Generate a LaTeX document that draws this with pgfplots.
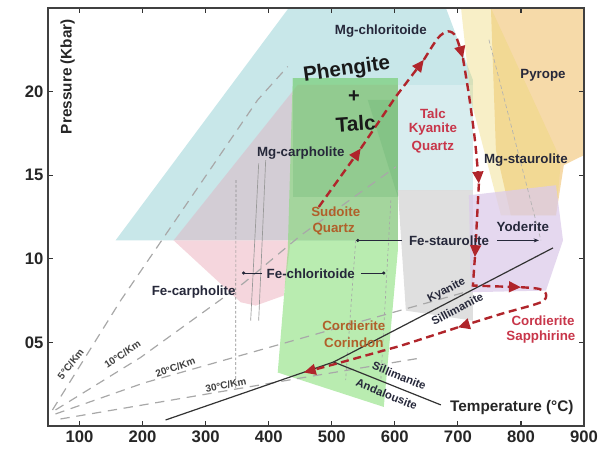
\documentclass[border=0pt]{standalone}
\usepackage{pgfplots}
\pgfplotsset{compat=1.18}
\usepackage{fontspec}
\setmainfont{Liberation Sans}
\usetikzlibrary{arrows.meta}
\definecolor{cyanband}{HTML}{C2E4E7}
\definecolor{mauve}{HTML}{D5CBD4}
\definecolor{pinkc}{HTML}{F4D2D9}
\definecolor{greenc}{HTML}{7FDC70}
\definecolor{greend}{HTML}{4FA860}
\definecolor{greyc}{HTML}{D9D9D9}
\definecolor{orangec}{HTML}{F5D39A}
\definecolor{yellowc}{HTML}{EDD874}
\definecolor{lavc}{HTML}{DCCBEA}
\definecolor{pathred}{HTML}{B0252B}
\definecolor{labred}{HTML}{C8364A}
\definecolor{labbrown}{HTML}{B0602A}
\definecolor{labdark}{HTML}{26283A}
\definecolor{geo}{HTML}{A8A8A8}
\begin{document}
\begin{tikzpicture}
\begin{axis}[scale only axis, width=402pt, height=313.5pt,
  xmin=50, xmax=900, ymin=0, ymax=25,
  xtick={100,200,300,400,500,600,700,800,900},
  ytick={5,10,15,20}, yticklabels={05,10,15,20},
  tick align=inside, major tick length=4pt,
  tick style={black!80, line width=0.9pt},
  axis line style={black!75, line width=1.3pt},
  ticklabel style={font=\fontsize{12.5}{14}\selectfont\bfseries, text=black!85},
  /pgf/number format/assume math mode=true,
  axis on top]
% ---- fields ----
\addplot[fill=cyanband, draw=none, fill opacity=0.9] coordinates {(157.1,11.1) (431.7,25) (681,25) (723.8,20.7) (723.8,14.1) (604.8,14.1) (604.8,11.1)} -- cycle;
\addplot[fill=white, draw=none, fill opacity=0.3] coordinates {(604.8,20.4) (723.8,20.4) (723.8,14.1) (604.8,14.1)} -- cycle;
\addplot[fill=mauve, draw=none, fill opacity=0.9] coordinates {(249.2,11.1) (446,20.4) (604.8,20.4) (604.8,11.1)} -- cycle;
\addplot[fill=pinkc, draw=none, fill opacity=0.9] coordinates {(249.2,11.1) (434.9,11.1) (423.8,7.8) (379.4,7.2) (355.6,7.4)} -- cycle;
\addplot[fill=greenc, draw=none, fill opacity=0.55] coordinates {(438.1,20.8) (604.8,20.8) (604.8,10.5) (582.5,1.14) (414.3,3.2) (430.2,10.5)} -- cycle;
\addplot[fill=greend, draw=none, fill opacity=0.2] coordinates {(438.1,20.8) (604.8,20.8) (604.8,13.7) (438.1,13.7)} -- cycle;
\addplot[fill=greend, draw=none, fill opacity=0.2] coordinates {(557.1,19.5) (604.8,19.5) (604.8,13.7)} -- cycle;
\addplot[fill=greyc, draw=none, fill opacity=0.85] coordinates {(604.8,14.1) (723.8,14.1) (723.8,6.3) (617.5,6.9)} -- cycle;
\addplot[fill=orangec, draw=none, fill opacity=0.85] coordinates {(752.4,25) (900,25) (900,16.2) (868,15.6) (855.6,12.6) (784,12.6) (760.3,16.5)} -- cycle;
\addplot[fill=yellowc, draw=none, fill opacity=0.4] coordinates {(705,25) (752.4,25) (863.5,15.9) (855.6,12.6) (768.3,12.6) (720.6,19.5)} -- cycle;
\addplot[fill=lavc, draw=none, fill opacity=0.75] coordinates {(717.5,13.8) (855.6,14.4) (866.7,11.1) (839.7,8.1) (720.6,8.0)} -- cycle;
% ---- geotherms ----
\addplot[geo, line width=0.9pt, dash pattern=on 7pt off 5pt] coordinates {(57.1,0.96) (165.1,7.5) (382.5,19.5) (430.2,21.5)};
\addplot[geo, line width=0.9pt, dash pattern=on 7pt off 5pt] coordinates {(61.9,0.96) (196.8,4.1) (360.3,8.55) (450.8,11.4) (601.6,15.5)};
\addplot[geo, line width=0.9pt, dash pattern=on 7pt off 5pt] coordinates {(61.9,0.72) (201.6,2.57) (522.2,6.0) (720.6,8.1)};
\addplot[geo, line width=0.9pt, dash pattern=on 7pt off 5pt] coordinates {(69.8,0.42) (228.6,1.44) (450.8,2.87) (641.3,4.07)};
% ---- reaction lines ----
\addplot[black!45, line width=0.5pt, dash pattern=on 2pt off 1.5pt] coordinates {(348.1,14.7) (347.6,2.15)};
\addplot[black!40, line width=0.5pt] coordinates {(384.1,15.7) (371.4,6.3)};
\addplot[black!40, line width=0.5pt] coordinates {(395.2,15.9) (384.1,6.3)};
\addplot[black!35, line width=0.5pt, dash pattern=on 2pt off 2pt] coordinates {(538,11.1) (522,2.75)};
\addplot[black!35, line width=0.5pt, dash pattern=on 2pt off 2pt] coordinates {(593.7,13.5) (577.8,2.75)};
\addplot[black!30, line width=0.5pt, dash pattern=on 3pt off 2pt] coordinates {(749.2,23.1) (831.7,11.1)};
% ---- aluminosilicate ----
\addplot[black!80, line width=0.9pt] coordinates {(236.5,0.36) (503,3.83) (850.8,10.65)};
\addplot[black!80, line width=0.9pt] coordinates {(503,3.83) (673,1.26)};
% ---- Fe lines ----
\addplot[labdark, line width=0.5pt] coordinates {(541.3,11.1) (612,11.1)};
\addplot[labdark, line width=0.5pt, -{Stealth[length=4pt,width=3pt]}] coordinates {(762,11.1) (828.6,11.1)};
\addplot[labdark, only marks, mark=*, mark size=1pt] coordinates {(541.3,11.1)};
\addplot[labdark, line width=0.5pt] coordinates {(360.3,9.15) (389,9.15)};
\addplot[labdark, line width=0.5pt] coordinates {(546,9.15) (582.5,9.15)};
\addplot[labdark, only marks, mark=*, mark size=1pt] coordinates {(360.3,9.15) (582.5,9.15)};
% ---- PT path ----
\pgfplotsset{ptpath/.style={pathred, line width=1.8pt, dash pattern=on 6pt off 3.5pt, -{Triangle[length=9pt,width=8pt]}}}
\addplot[ptpath] coordinates {(479.4,13.1) (546,16.6)};
\addplot[ptpath] coordinates {(546,16.6) (601.6,19.7) (646,21.9)};
\addplot[ptpath, smooth] coordinates {(646,21.9) (668.3,23.2) (684.1,23.6) (696.8,23.3) (708,22.0)};
\addplot[ptpath, smooth] coordinates {(708,22.0) (717.5,19.8) (727,17.1) (733.3,14.5)};
\addplot[ptpath] coordinates {(733.3,14.5) (730.2,12.3) (727,10.1)};
\addplot[ptpath] coordinates {(727,10.1) (723.8,8.4) (800,8.3)};
\addplot[ptpath, smooth] coordinates {(800,8.3) (828.6,8.2) (839.7,7.9) (831.7,7.4) (768.3,6.7) (700,5.9)};
\addplot[ptpath] coordinates {(700,5.9) (609.5,4.8) (514.3,3.8) (455.6,3.2)};
% ---- labels ----
\begin{scope}[every node/.style={font=\fontsize{10}{12}\selectfont\bfseries, text=labdark, inner sep=0pt}]
\node at (axis cs:577.8,23.6) {Mg-chloritoide};
\node[font=\fontsize{15.5}{17}\selectfont\bfseries, rotate=8, text=black!90] at (axis cs:523.8,21.3) {Phengite};
\node[font=\fontsize{15}{17}\selectfont\bfseries, text=black!90] at (axis cs:535,19.7) {+};
\node[font=\fontsize{15.5}{17}\selectfont\bfseries, rotate=4, text=black!90] at (axis cs:538,18.1) {Talc};
\node at (axis cs:835,21.0) {Pyrope};
\node[text=labred] at (axis cs:660.3,18.7) {Talc};
\node[text=labred] at (axis cs:660.3,17.75) {Kyanite};
\node[text=labred] at (axis cs:660.3,16.7) {Quartz};
\node at (axis cs:450.8,16.3) {Mg-carpholite};
\node at (axis cs:808,15.9) {Mg-staurolite};
\node[text=labbrown] at (axis cs:506.3,12.8) {Sudoite};
\node[text=labbrown] at (axis cs:503,11.8) {Quartz};
\node at (axis cs:803,11.9) {Yoderite};
\node at (axis cs:686,11.1) {Fe-staurolite};
\node at (axis cs:466.7,9.1) {Fe-chloritoide};
\node at (axis cs:281,8.0) {Fe-carpholite};
\node[text=labbrown] at (axis cs:535,6.0) {Cordierite};
\node[text=labbrown] at (axis cs:535,5.0) {Corindon};
\node[text=labred] at (axis cs:835,6.3) {Cordierite};
\node[text=labred] at (axis cs:831.7,5.3) {Sapphirine};
\node[font=\fontsize{8.5}{10}\selectfont\bfseries, rotate=28] at (axis cs:682,8.1) {Kyanite};
\node[font=\fontsize{8.5}{10}\selectfont\bfseries, rotate=28] at (axis cs:699,7.0) {Sillimanite};
\node[font=\fontsize{8.5}{10}\selectfont\bfseries, rotate=-22] at (axis cs:607,3.0) {Sillimanite};
\node[font=\fontsize{8.5}{10}\selectfont\bfseries, rotate=-22] at (axis cs:587,1.9) {Andalousite};
\node[font=\fontsize{7.5}{9}\selectfont\bfseries, rotate=52, text=black!75] at (axis cs:86,3.7) {5°C/Km};
\node[font=\fontsize{7.5}{9}\selectfont\bfseries, rotate=34, text=black!75] at (axis cs:168,4.3) {10°C/Km};
\node[font=\fontsize{7.5}{9}\selectfont\bfseries, rotate=20, text=black!75] at (axis cs:252,3.5) {20°C/Km};
\node[font=\fontsize{7.5}{9}\selectfont\bfseries, rotate=12, text=black!75] at (axis cs:332,2.45) {30°C/Km};
\node[font=\fontsize{11.5}{13}\selectfont\bfseries, text=black!85] at (axis cs:785.6,1.08) {Temperature (°C)};
\node[font=\fontsize{11.5}{13}\selectfont\bfseries, text=black!85, rotate=90] at (axis cs:81,20.9) {Pressure (Kbar)};
\end{scope}
\end{axis}
\pgfresetboundingbox
\path (current axis.south west) ++(-36pt,-19.5pt) coordinate (bbl);
\path (current axis.north east) ++(19.5pt,6pt) coordinate (btr);
\path[use as bounding box] (bbl) rectangle (btr);
\end{tikzpicture}
\end{document}
